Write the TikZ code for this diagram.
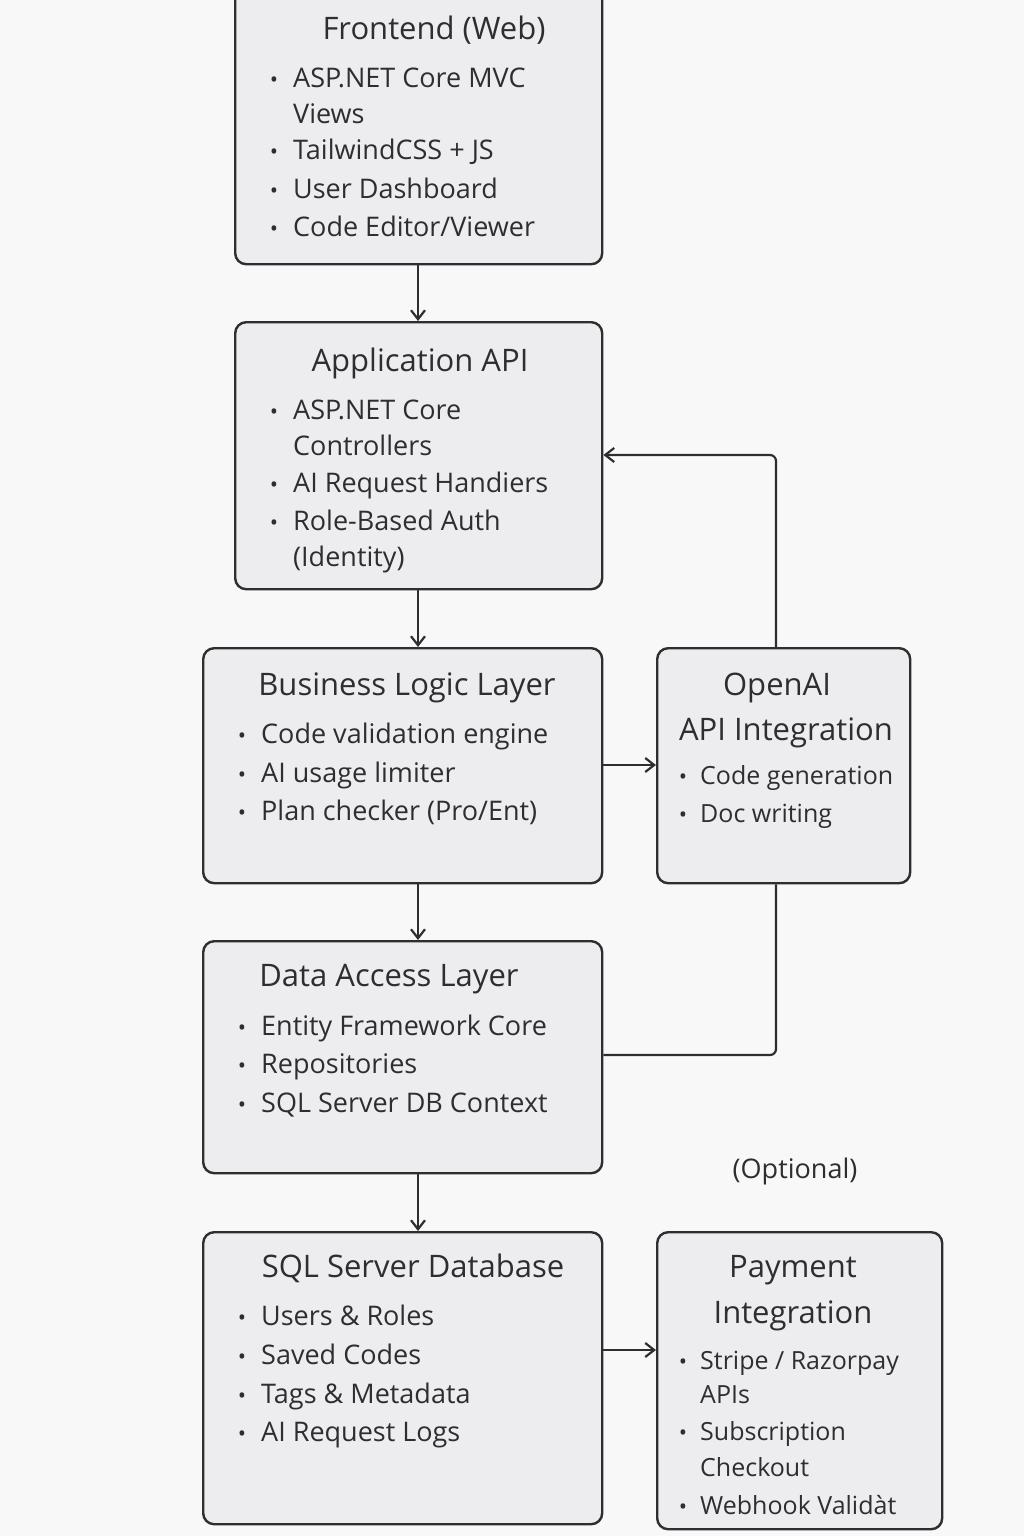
\documentclass[tikz,border=0pt]{standalone}
\usepackage{fontspec}
\setmainfont{Open Sans}
\usetikzlibrary{arrows.meta}
\definecolor{bg}{HTML}{F8F8F9}
\definecolor{boxfill}{HTML}{EDEDF0}
\definecolor{ink}{HTML}{2E2E30}
\begin{document}
\begin{tikzpicture}[x=1pt,y=-1pt,
  box/.style={draw=ink,line width=2.4pt,fill=boxfill,rounded corners=11pt},
  ttl/.style={font=\fontsize{31}{36}\selectfont,text=ink,anchor=base},
  itm/.style={font=\fontsize{27}{32}\selectfont,text=ink,anchor=base west,inner sep=0},
  bul/.style={font=\fontsize{22}{26}\selectfont,text=ink,anchor=base,inner sep=0},
  arr/.style={draw=ink,line width=2.2pt,-{Straight Barb[length=9pt,width=14pt]}},
  ln/.style={draw=ink,line width=2.2pt,rounded corners=6pt}]
\fill[bg] (0,0) rectangle (1024,1536);
\useasboundingbox (0,0) rectangle (1024,1536);
% boxes
\node[box,minimum width=367pt,minimum height=280pt,anchor=north west] (fe) at (234,-17) {};
\node[box,minimum width=367pt,minimum height=267pt,anchor=north west] (api) at (234,321) {};
\node[box,minimum width=399pt,minimum height=235pt,anchor=north west] (bl) at (202,647) {};
\node[box,minimum width=253pt,minimum height=235pt,anchor=north west] (oa) at (656,647) {};
\node[box,minimum width=399pt,minimum height=232pt,anchor=north west] (da) at (202,940) {};
\node[box,minimum width=399pt,minimum height=292pt,anchor=north west] (db) at (202,1231) {};
\node[box,minimum width=285pt,minimum height=297pt,anchor=north west] (pay) at (656,1231) {};
% frontend
\node[ttl] (t1) at (434,40) {Frontend (Web)};
\node[bul] (b11) at (274,88) {•}; \node[itm] (i11) at (293,88) {ASP.NET Core MVC};
\node[itm] (i11b) at (293,124) {Views};
\node[bul] (b12) at (274,160) {•}; \node[itm] (i12) at (293,160) {TailwindCSS + JS};
\node[bul] (b13) at (274,198) {•}; \node[itm] (i13) at (293,198) {User Dashboard};
\node[bul] (b14) at (274,236) {•}; \node[itm] (i14) at (293,236) {Code Editor/Viewer};
% api
\node[ttl] (t2) at (420,371) {Application API};
\node[bul] (b21) at (274,419) {•}; \node[itm] (i21) at (293,419) {ASP.NET Core};
\node[itm] (i21b) at (293,455) {Controllers};
\node[bul] (b22) at (274,492) {•}; \node[itm] (i22) at (293,492) {AI Request Handiers};
\node[bul] (b23) at (274,530) {•}; \node[itm] (i23) at (293,530) {Role-Based Auth};
\node[itm] (i23b) at (293,566) {(Identity)};
% business logic
\node[ttl] (t3) at (407,695) {Business Logic Layer};
\node[bul] (b31) at (242,743) {•}; \node[itm] (i31) at (261,743) {Code validation engine};
\node[bul] (b32) at (242,782) {•}; \node[itm] (i32) at (261,782) {AI usage limiter};
\node[bul] (b33) at (242,820) {•}; \node[itm] (i33) at (261,820) {Plan checker (Pro/Ent)};
% openai
\node[ttl] (t4) at (777,695) {OpenAI};
\node[ttl] (t4b) at (786,740) {API Integration};
\node[bul] (b41) at (683,784) {•}; \node[itm,font=\fontsize{25}{30}\selectfont] (i41) at (700,784) {Code generation};
\node[bul] (b42) at (683,822) {•}; \node[itm,font=\fontsize{25}{30}\selectfont] (i42) at (700,822) {Doc writing};
% data access
\node[ttl] (t5) at (389,986) {Data Access Layer};
\node[bul] (b51) at (242,1035) {•}; \node[itm] (i51) at (261,1035) {Entity Framework Core};
\node[bul] (b52) at (242,1073) {•}; \node[itm] (i52) at (261,1073) {Repositories};
\node[bul] (b53) at (242,1112) {•}; \node[itm] (i53) at (261,1112) {SQL Server DB Context};
% sql db
\node[ttl] (t6) at (413,1277) {SQL Server Database};
\node[bul] (b61) at (242,1325) {•}; \node[itm] (i61) at (261,1325) {Users \& Roles};
\node[bul] (b62) at (242,1364) {•}; \node[itm] (i62) at (261,1364) {Saved Codes};
\node[bul] (b63) at (242,1403) {•}; \node[itm] (i63) at (261,1403) {Tags \& Metadata};
\node[bul] (b64) at (242,1441) {•}; \node[itm] (i64) at (261,1441) {AI Request Logs};
% payment
\node[ttl] (t7) at (793,1277) {Payment};
\node[ttl] (t7b) at (793,1323) {Integration};
\node[bul] (b71) at (683,1369) {•}; \node[itm,font=\fontsize{25}{30}\selectfont] (i71) at (700,1369) {Stripe / Razorpay};
\node[itm,font=\fontsize{25}{30}\selectfont] (i71b) at (700,1403) {APIs};
\node[bul] (b72) at (683,1440) {•}; \node[itm,font=\fontsize{25}{30}\selectfont] (i72) at (700,1440) {Subscription};
\node[itm,font=\fontsize{25}{30}\selectfont] (i72b) at (700,1476) {Checkout};
\node[bul] (b73) at (683,1514) {•}; \node[itm,font=\fontsize{25}{30}\selectfont] (i73) at (700,1514) {Webhook Validàt};
% optional
\node[font=\fontsize{27}{32}\selectfont,text=ink,anchor=base] (opt) at (795,1178) {(Optional)};
% connectors
\coordinate (c1) at (776,455);
\coordinate (c2) at (776,1055);
\draw[arr] (fe.south -| 418,0) -- (api.north -| 418,0);
\draw[arr] (api.south -| 418,0) -- (bl.north -| 418,0);
\draw[arr] (bl.south -| 418,0) -- (da.north -| 418,0);
\draw[arr] (da.south -| 418,0) -- (db.north -| 418,0);
\draw[arr] (bl.east |- 0,765) -- (oa.west |- 0,765);
\draw[arr] (db.east |- 0,1350) -- (pay.west |- 0,1350);
\draw[ln,-{Straight Barb[length=9pt,width=14pt]}] (oa.north -| c1) -- (c1) -- (api.east |- c1);
\draw[ln] (oa.south -| c2) -- (c2) -- (da.east |- c2);
\end{tikzpicture}
\end{document}
